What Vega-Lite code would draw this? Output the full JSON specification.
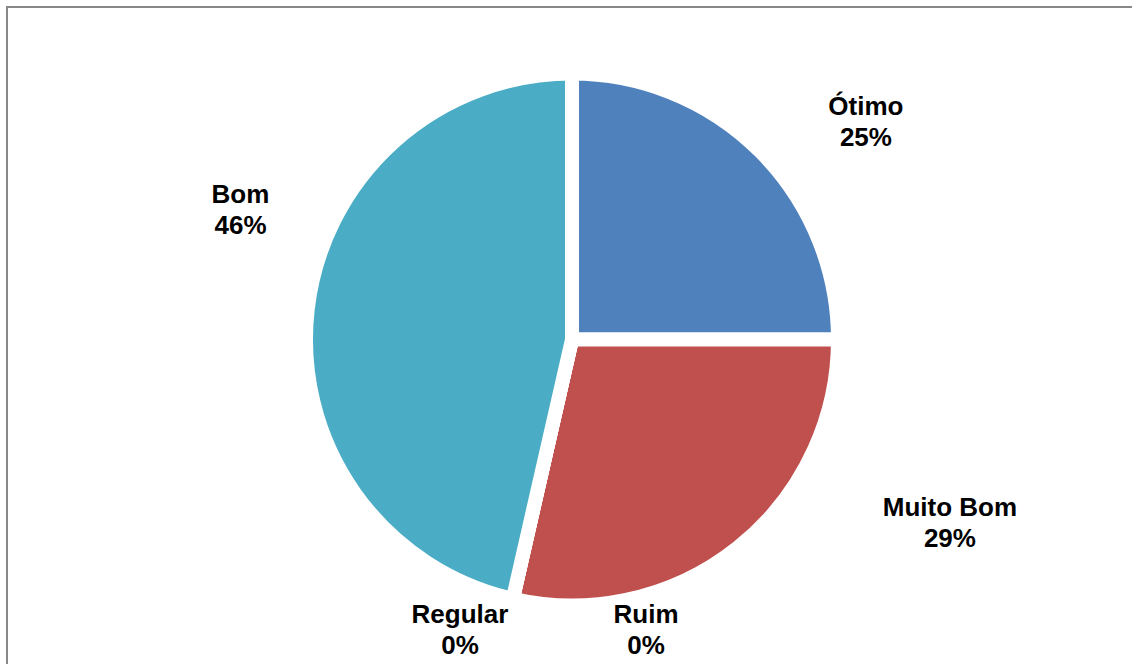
{
  "$schema": "https://vega.github.io/schema/vega-lite/v6.json",
  "width": 1130,
  "height": 665,
  "autosize": {"type": "none"},
  "padding": {"left": 7, "top": 7, "right": 0, "bottom": 0},
  "background": "white",
  "config": {
    "style": {"view": {"stroke": "#888888", "strokeWidth": 2, "strokeDash": [1131, 1794, 666, 2]}}
  },
  "data": {
    "values": [
      {"categoria": "Ótimo", "quantidade": 7, "rotulo": "Ótimo\n25%", "ordem": 1},
      {"categoria": "Muito Bom", "quantidade": 8, "rotulo": "Muito Bom\n29%", "ordem": 2},
      {"categoria": "Ruim", "quantidade": 0, "rotulo": "Ruim\n0%", "ordem": 3},
      {"categoria": "Regular", "quantidade": 0, "rotulo": "Regular\n0%", "ordem": 4},
      {"categoria": "Bom", "quantidade": 13, "rotulo": "Bom\n46%", "ordem": 5}
    ]
  },
  "resolve": {"scale": {"theta": "independent"}},
  "layer": [
    {
      "mark": {"type": "arc", "outerRadius": 266, "stroke": "white", "strokeWidth": 14, "strokeJoin": "bevel"},
      "encoding": {
        "theta": {"field": "quantidade", "type": "quantitative", "stack": true},
        "order": {"field": "ordem", "type": "quantitative"},
        "color": {
          "field": "categoria",
          "type": "nominal",
          "scale": {
            "domain": ["Ótimo", "Muito Bom", "Ruim", "Regular", "Bom"],
            "range": ["#4F81BD", "#C0504D", "#8064A2", "#9BBB59", "#4BACC6"]
          },
          "legend": null
        }
      }
    },
    {
      "mark": {"type": "text", "radius": 374.5, "align": "center", "baseline": "middle", "font": "Liberation Sans", "fontWeight": "bold", "fontSize": 26, "lineHeight": 31, "lineBreak": "\n", "fill": "black"},
      "encoding": {
        "theta": {"field": "quantidade", "type": "quantitative", "stack": true, "scale": {"range": [0.117, 6.400]}},
        "order": {"field": "ordem", "type": "quantitative"},
        "detail": {"field": "categoria", "type": "nominal"},
        "text": {"condition": {"test": "datum.categoria === 'Ótimo'", "field": "rotulo"}, "value": ""}
      }
    },
    {
      "mark": {"type": "text", "radius": 413.6, "align": "center", "baseline": "middle", "font": "Liberation Sans", "fontWeight": "bold", "fontSize": 26, "lineHeight": 31, "lineBreak": "\n", "fill": "black"},
      "encoding": {
        "theta": {"field": "quantidade", "type": "quantitative", "stack": true, "scale": {"range": [-0.479, 5.804]}},
        "order": {"field": "ordem", "type": "quantitative"},
        "detail": {"field": "categoria", "type": "nominal"},
        "text": {"condition": {"test": "datum.categoria === 'Muito Bom'", "field": "rotulo"}, "value": ""}
      }
    },
    {
      "mark": {"type": "text", "radius": 285.3, "align": "center", "baseline": "middle", "font": "Liberation Sans", "fontWeight": "bold", "fontSize": 26, "lineHeight": 31, "lineBreak": "\n", "fill": "black"},
      "encoding": {
        "theta": {"field": "quantidade", "type": "quantitative", "stack": true, "scale": {"range": [-0.487, 5.796]}},
        "order": {"field": "ordem", "type": "quantitative"},
        "detail": {"field": "categoria", "type": "nominal"},
        "text": {"condition": {"test": "datum.categoria === 'Ruim'", "field": "rotulo"}, "value": ""}
      }
    },
    {
      "mark": {"type": "text", "radius": 297.4, "align": "center", "baseline": "middle", "font": "Liberation Sans", "fontWeight": "bold", "fontSize": 26, "lineHeight": 31, "lineBreak": "\n", "fill": "black"},
      "encoding": {
        "theta": {"field": "quantidade", "type": "quantitative", "stack": true, "scale": {"range": [0.162, 6.445]}},
        "order": {"field": "ordem", "type": "quantitative"},
        "detail": {"field": "categoria", "type": "nominal"},
        "text": {"condition": {"test": "datum.categoria === 'Regular'", "field": "rotulo"}, "value": ""}
      }
    },
    {
      "mark": {"type": "text", "radius": 361.8, "align": "center", "baseline": "middle", "font": "Liberation Sans", "fontWeight": "bold", "fontSize": 26, "lineHeight": 31, "lineBreak": "\n", "fill": "black"},
      "encoding": {
        "theta": {"field": "quantidade", "type": "quantitative", "stack": true, "scale": {"range": [0.300, 6.583]}},
        "order": {"field": "ordem", "type": "quantitative"},
        "detail": {"field": "categoria", "type": "nominal"},
        "text": {"condition": {"test": "datum.categoria === 'Bom'", "field": "rotulo"}, "value": ""}
      }
    }
  ]
}
